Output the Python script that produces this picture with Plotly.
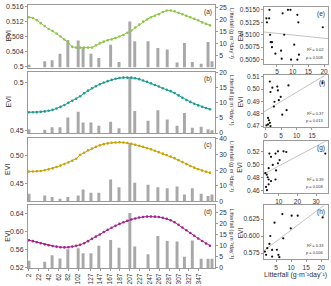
import plotly.graph_objects as go
import numpy as np

# ---------------- data ----------------
evi_doy = [2, 10, 18, 26, 34, 42, 50, 58, 66, 74, 82, 90, 98, 106, 114, 122, 130, 138, 146, 154,
           162, 170, 178, 186, 194, 202, 210, 218, 226, 234, 242, 250, 258, 266, 274, 282, 290,
           298, 306, 314, 322, 330, 338, 346, 354, 362, 370]
evi_a = [0.5132, 0.5130, 0.5124, 0.5116, 0.5108, 0.5100, 0.5095, 0.5088, 0.5080, 0.5072, 0.5062,
         0.5052, 0.5050, 0.5050, 0.5050, 0.5050, 0.5050, 0.5056, 0.5062, 0.5066, 0.5070, 0.5072,
         0.5076, 0.5080, 0.5084, 0.5090, 0.5096, 0.5104, 0.5112, 0.5120, 0.5126, 0.5132, 0.5136,
         0.5140, 0.5146, 0.5150, 0.5150, 0.5148, 0.5144, 0.5140, 0.5136, 0.5132, 0.5128, 0.5124,
         0.5118, 0.5114, 0.5110]
evi_b = [0.4688, 0.4688, 0.4689, 0.4692, 0.4697, 0.4704, 0.4713, 0.4727, 0.4744, 0.4764, 0.4787,
         0.4808, 0.4830, 0.4856, 0.4888, 0.4915, 0.4940, 0.4962, 0.4983, 0.5000, 0.5015, 0.5028,
         0.5040, 0.5048, 0.5052, 0.5052, 0.5052, 0.5046, 0.5036, 0.5022, 0.5007, 0.4993, 0.4975,
         0.4958, 0.4940, 0.4925, 0.4910, 0.4890, 0.4865, 0.4840, 0.4817, 0.4797, 0.4778, 0.4760,
         0.4745, 0.4732, 0.4720]
evi_c = [0.4713, 0.4715, 0.4718, 0.4724, 0.4735, 0.4752, 0.4770, 0.4793, 0.4818, 0.4845, 0.4873,
         0.4903, 0.4940, 0.5010, 0.5045, 0.5090, 0.5122, 0.5150, 0.5178, 0.5198, 0.5212, 0.5222,
         0.5228, 0.5230, 0.5226, 0.5218, 0.5204, 0.5188, 0.5170, 0.5150, 0.5128, 0.5106, 0.5082,
         0.5056, 0.5030, 0.5005, 0.4980, 0.4950, 0.4915, 0.4880, 0.4845, 0.4812, 0.4782, 0.4755,
         0.4730, 0.4708, 0.4690]
evi_d = [0.5805, 0.5785, 0.5762, 0.5738, 0.5715, 0.5695, 0.5678, 0.5664, 0.5652, 0.5648, 0.5652,
         0.5665, 0.5683, 0.5705, 0.5740, 0.5785, 0.5836, 0.5885, 0.5933, 0.5985, 0.6035, 0.6080,
         0.6125, 0.6165, 0.6200, 0.6235, 0.6262, 0.6285, 0.6305, 0.6318, 0.6326, 0.6328, 0.6325,
         0.6316, 0.6300, 0.6278, 0.6245, 0.6200, 0.6145, 0.6085, 0.6025, 0.5965, 0.5905, 0.5845,
         0.5790, 0.5735, 0.5685]

bar_doy = [2, 34, 49, 65, 81, 102, 112, 128, 144, 168, 185, 207, 217, 244, 264, 283, 303, 318,
           334, 352, 366, 374]
litter_a = [1.2, 2.6, 3.0, 5.8, 11.5, 11.3, 8.5, 5.8, 4.0, 9.5, 2.3, 19.1, 10.9, 10.9, 8.1, 7.5,
            2.1, 10.2, 2.3, 1.6, 10.6, 2.6]
litter_b = [1.3, 1.1, 1.9, 1.9, 5.1, 7.0, 3.5, 3.5, 2.4, 3.7, 1.6, 18.4, 7.3, 4.1, 7.5, 4.5,
            2.4, 6.6, 1.8, 2.1, 1.3, 0.9]
litter_c = [4.9, 3.8, 2.8, 1.7, 2.8, 3.8, 7.7, 5.5, 5.5, 14.0, 9.1, 36.8, 11.9, 10.6, 9.1, 8.5,
            9.5, 4.5, 8.5, 5.0, 3.5, 4.5]
litter_d = [3.2, 2.8, 5.7, 4.3, 8.4, 8.8, 6.6, 6.6, 9.9, 12.5, 9.1, 24.6, 9.6, 6.2, 14.3, 12.1,
            11.9, 5.0, 12.3, 4.1, 4.1, 4.1]

doy_ticks = [2, 22, 42, 62, 82, 102, 127, 147, 167, 187, 207, 227, 247, 267, 287, 307, 327, 347]

e_x = [1.6, 2.5, 1.8, 2.6, 2.8, 3.0, 3.4, 3.4, 4.5, 6.5, 6.8, 7.3, 8.5, 9.3, 6.3, 9.5, 11.5,
       10.5, 11.5, 11.8, 12.0, 19.6]
e_y = [0.5133, 0.5133, 0.5125, 0.5150, 0.5100, 0.5085, 0.5085, 0.5075, 0.5062, 0.5052, 0.5143,
       0.5100, 0.5150, 0.5150, 0.5068, 0.5050, 0.5050, 0.5080, 0.5140, 0.5125, 0.5060, 0.5115]
f_x = [1.4, 2.2, 1.6, 3.8, 4.0, 4.9, 4.3, 2.9, 2.7, 7.4, 6.8, 5.4, 0.8, 1.1, 1.4, 0.8, 0.3, 1.6, 18.4]
f_y = [0.5061, 0.5011, 0.4976, 0.5020, 0.4989, 0.4937, 0.4910, 0.4897, 0.4858, 0.5029, 0.4829,
       0.4792, 0.4766, 0.4747, 0.4726, 0.4713, 0.4705, 0.4700, 0.5050]
g_x = [4.9, 5.8, 8.2, 9.5, 12.5, 14.0, 10.4, 9.5, 6.7, 4.5, 3.5, 2.7, 4.0, 4.5, 5.8, 8.2, 3.1,
       3.6, 4.5, 35.0, 8.5]
g_y = [0.5175, 0.5125, 0.5175, 0.5210, 0.5210, 0.5200, 0.5075, 0.5025, 0.5000, 0.4950, 0.4850,
       0.4875, 0.4810, 0.4775, 0.4750, 0.4775, 0.4660, 0.4610, 0.4700, 0.5175, 0.4915]
h_x = [7.1, 4.5, 10.2, 12.2, 9.9, 7.4, 3.1, 2.8, 2.1, 1.3, 3.7, 1.7, 3.7, 5.8, 6.1, 20.5, 5.3]
h_y = [0.6323, 0.6197, 0.6299, 0.6299, 0.6114, 0.5968, 0.6002, 0.5886, 0.5823, 0.5774, 0.5798,
       0.5726, 0.5701, 0.5726, 0.5692, 0.6274, 0.5800]

stats_text = [("R² = 0.02", "p = 0.508"), ("R² = 0.37", "p = 0.013"),
              ("R² = 0.39", "p = 0.008"), ("R² = 0.33", "p = 0.006")]

# ---------------- style ----------------
FONT = "Liberation Sans, Arial, sans-serif"
AX = "#9a9a9a"
TXT = "#333333"
BAR = "#a8a8a8"
colors = ["#8fc64a", "#1f9d8f", "#c9a20a", "#a6228f"]

fig = go.Figure()

left_dom_x = [0, 0.621]
left_dom_y = [[0.762, 1.0], [0.513, 0.747], [0.253, 0.494], [0.0, 0.238]]
bar_ranges = [[0, 26], [0, 20.3], [0, 40.5], [0, 28]]
bar_ticks = [[5, 10, 15, 20, 25], [0, 5, 10, 15, 20], [0, 10, 20, 30, 40], [0, 5, 10, 15, 20, 25]]
evi_ranges = [[0.4996, 0.5165], [0.4469, 0.5116], [0.4184, 0.5305], [0.5194, 0.6572]]
evi_tickvals = [[0.5, 0.504, 0.508, 0.512, 0.516], [0.45, 0.5], [0.45, 0.50], [0.52, 0.56, 0.60, 0.64]]
evi_ticktext = [["0.5", "0.504", "0.508", "0.512", "0.516"], ["0.45", "0.5"], ["0.45", "0.50"],
                ["0.52", "0.56", "0.60", "0.64"]]
evis = [evi_a, evi_b, evi_c, evi_d]
litters = [litter_a, litter_b, litter_c, litter_d]
labels_left = ["(a)", "(b)", "(c)", "(d)"]

layout = {}
for i in range(4):
    xn = "x" if i == 0 else f"x{i+1}"
    ybar = "y" if i == 0 else f"y{2*i+1}"
    yevi = f"y{2*i+2}"
    fig.add_trace(go.Bar(x=bar_doy, y=litters[i], width=6, marker=dict(color=BAR, line_width=0),
                         xaxis=xn, yaxis=ybar, showlegend=False))
    fig.add_trace(go.Scatter(x=evi_doy, y=evis[i], mode="lines+markers",
                             line=dict(color=colors[i], width=1),
                             marker=dict(color=colors[i], size=2.6),
                             xaxis=xn, yaxis=yevi, showlegend=False))
    xkey = "xaxis" if i == 0 else f"xaxis{i+1}"
    ybkey = "yaxis" if i == 0 else f"yaxis{2*i+1}"
    yekey = f"yaxis{2*i+2}"
    layout[xkey] = dict(domain=left_dom_x, anchor=ybar, range=[0, 380],
                        tickvals=doy_ticks, ticktext=[str(v) for v in doy_ticks],
                        tickangle=-90, showticklabels=(i == 3),
                        ticks="outside" if i == 3 else "", ticklen=2, tickcolor=AX,
                        showline=True, mirror=True, linecolor=AX, linewidth=1,
                        showgrid=False, zeroline=False,
                        tickfont=dict(size=6.5, color=TXT, family=FONT))
    layout[ybkey] = dict(domain=left_dom_y[i], anchor=xn, side="right", range=bar_ranges[i],
                         tickvals=bar_ticks[i], ticks="outside", ticklen=2, tickcolor=AX,
                         showline=True, mirror=True, linecolor=AX, linewidth=1,
                         showgrid=False, zeroline=False,
                         tickfont=dict(size=6.8, color=TXT, family=FONT))
    layout[yekey] = dict(overlaying=ybar, anchor=xn, side="left", range=evi_ranges[i],
                         tickvals=evi_tickvals[i], ticktext=evi_ticktext[i],
                         ticks="outside", ticklen=2, tickcolor=AX,
                         showline=False, showgrid=False, zeroline=False,
                         tickfont=dict(size=7, color=TXT, family=FONT))

# scatter panels
sc_dom_x = [0.784, 0.997]
sc_dom_y = [[0.777, 0.993], [0.535, 0.732], [0.286, 0.483], [0.033, 0.238]]
sc_xr = [[0.85, 21.3], [-0.5, 20.2], [2.0, 36.5], [1.0, 22.3]]
sc_yr = [[0.5042, 0.5156], [0.4690, 0.5110], [0.4570, 0.5370], [0.5660, 0.6450]]
sc_xt = [[5, 10, 15, 20], [0, 5, 10, 15], [10, 20, 30], [5, 10, 15, 20]]
sc_yt = [[0.505, 0.5075, 0.51, 0.5125, 0.515], [0.47, 0.48, 0.49, 0.50, 0.51],
         [0.46, 0.48, 0.50, 0.52, 0.54], [0.575, 0.600, 0.625]]
sc_fmt = [".4f", ".2f", ".2f", ".3f"]
sxs = [e_x, f_x, g_x, h_x]
sys_ = [e_y, f_y, g_y, h_y]
labels_right = ["(e)", "(f)", "(g)", "(h)"]

for j in range(4):
    xn = f"x{j+5}"
    yn = f"y{j+9}"
    xs = np.array(sxs[j]); ys = np.array(sys_[j])
    k, b0 = np.polyfit(xs, ys, 1)
    xl = np.array(sc_xr[j])
    fig.add_trace(go.Scatter(x=xl, y=k * xl + b0, mode="lines",
                             line=dict(color="#c4c4c4", width=1), xaxis=xn, yaxis=yn,
                             showlegend=False))
    fig.add_trace(go.Scatter(x=xs, y=ys, mode="markers",
                             marker=dict(color="#111111", size=2.2), xaxis=xn, yaxis=yn,
                             showlegend=False))
    layout[f"xaxis{j+5}"] = dict(domain=sc_dom_x, anchor=yn, range=sc_xr[j], tickvals=sc_xt[j],
                                 ticks="outside", ticklen=2, tickcolor=AX,
                                 showline=True, mirror=True, linecolor=AX, linewidth=1,
                                 showgrid=False, zeroline=False,
                                 tickfont=dict(size=6.5, color=TXT, family=FONT))
    layout[f"yaxis{j+9}"] = dict(domain=sc_dom_y[j], anchor=xn, range=sc_yr[j], tickvals=sc_yt[j],
                                 tickformat=sc_fmt[j], ticks="outside", ticklen=2, tickcolor=AX,
                                 showline=True, mirror=True, linecolor=AX, linewidth=1,
                                 showgrid=False, zeroline=False,
                                 tickfont=dict(size=6.5, color=TXT, family=FONT))

ann = []
for i in range(4):
    d0, d1 = left_dom_y[i]
    ann.append(dict(text="EVI", xref="paper", yref="paper", x=-0.066, y=(d0 + d1) / 2,
                    textangle=-90, showarrow=False, font=dict(size=7, color=TXT, family=FONT),
                    xanchor="center", yanchor="middle"))
    ann.append(dict(text="Litterfall (g m⁻²day⁻¹)", xref="paper", yref="paper", x=0.677,
                    y=d1 - 0.005, textangle=90, showarrow=False,
                    font=dict(size=5.6, color=TXT, family=FONT), xanchor="center", yanchor="top"))
    ann.append(dict(text=labels_left[i], xref="paper", yref="paper", x=0.618, y=d1 - 0.004,
                    showarrow=False, font=dict(size=6.5, color=TXT, family=FONT),
                    xanchor="right", yanchor="top"))
for j in range(4):
    d0, d1 = sc_dom_y[j]
    ann.append(dict(text="EVI", xref="paper", yref="paper", x=0.704, y=(d0 + d1) / 2,
                    textangle=-90, showarrow=False, font=dict(size=6.5, color=TXT, family=FONT),
                    xanchor="center", yanchor="middle"))
    ann.append(dict(text=labels_right[j], xref="paper", yref="paper", x=0.995, y=d1 - 0.004,
                    showarrow=False, font=dict(size=6.5, color=TXT, family=FONT),
                    xanchor="right", yanchor="top"))
    ann.append(dict(text=stats_text[j][0], xref="paper", yref="paper", x=0.99, y=d0 + 0.035,
                    showarrow=False, font=dict(size=4, color=TXT, family=FONT),
                    xanchor="right", yanchor="bottom"))
    ann.append(dict(text=stats_text[j][1], xref="paper", yref="paper", x=0.99, y=d0 + 0.008,
                    showarrow=False, font=dict(size=4, color=TXT, family=FONT),
                    xanchor="right", yanchor="bottom"))
ann.append(dict(text="Litterfall (g·m⁻²day⁻¹)", xref="paper", yref="paper", x=0.89, y=-0.005,
                showarrow=False, font=dict(size=7, color=TXT, family=FONT),
                xanchor="center", yanchor="top"))

fig.update_layout(width=331, height=286, margin=dict(l=28, r=2, t=3, b=14),
                  paper_bgcolor="white", plot_bgcolor="white", annotations=ann,
                  font=dict(family=FONT, color=TXT), barmode="overlay", **layout)

fig.write_html("out.html")
